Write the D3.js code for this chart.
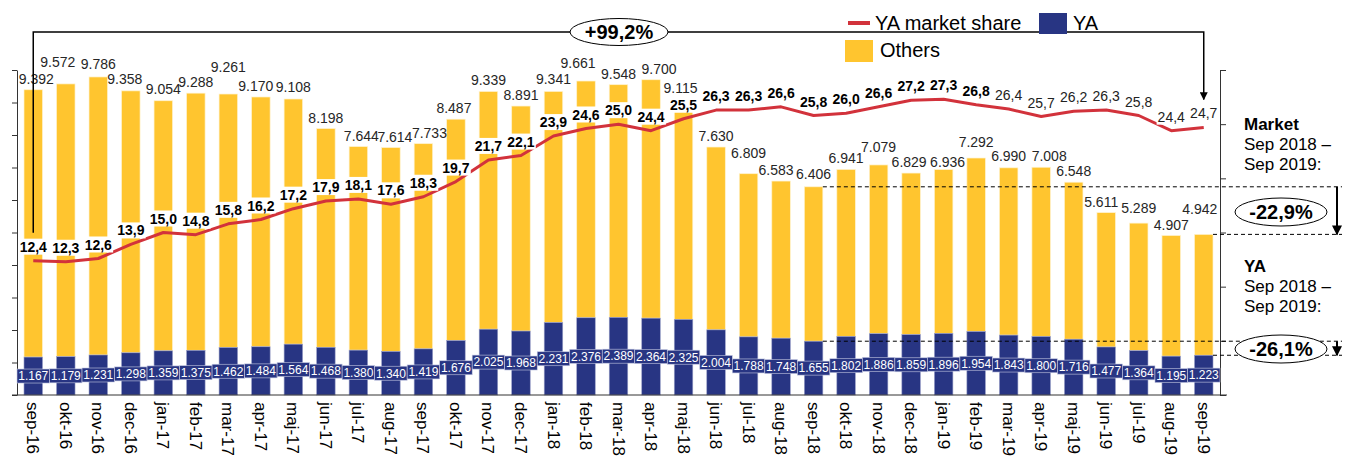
<!DOCTYPE html>
<html><head><meta charset="utf-8">
<script src="https://cdn.jsdelivr.net/npm/d3@7"></script>
<style>body{margin:0;background:#fff} svg{display:block;font-family:"Liberation Sans",Arial,sans-serif}</style>
</head><body><svg id="c" width="1352" height="464"></svg>
<script>
const months = ["sep-16","okt-16","nov-16","dec-16","jan-17","feb-17","mar-17","apr-17","maj-17","jun-17","jul-17","aug-17","sep-17","okt-17","nov-17","dec-17","jan-18","feb-18","mar-18","apr-18","maj-18","jun-18","jul-18","aug-18","sep-18","okt-18","nov-18","dec-18","jan-19","feb-19","mar-19","apr-19","maj-19","jun-19","jul-19","aug-19","sep-19"];
const totals = [9392,9572,9786,9358,9054,9288,9261,9170,9108,8198,7644,7614,7733,8487,9339,8891,9341,9661,9548,9700,9115,7630,6809,6583,6406,6941,7079,6829,6936,7292,6990,7008,6548,5611,5289,4907,4942];
const yaValues = [1167,1179,1231,1298,1359,1375,1462,1484,1564,1468,1380,1340,1419,1676,2025,1968,2231,2376,2389,2364,2325,2004,1788,1748,1655,1802,1886,1859,1896,1954,1843,1800,1716,1477,1364,1195,1223];
const share = [12.4,12.3,12.6,13.9,15.0,14.8,15.8,16.2,17.2,17.9,18.1,17.6,18.3,19.7,21.7,22.1,23.9,24.6,25.0,24.4,25.5,26.3,26.3,26.6,25.8,26.0,26.6,27.2,27.3,26.8,26.4,25.7,26.2,26.3,25.8,24.4,24.7];
const leftTicks = d3.range(0, 10001, 1000);
const rightTicks = [0,5,10,15,20,25,30];
const lastBoldLabel = "feb-19";
const periodStart = "sep-18", periodEnd = "sep-19";

// layout tweaks for total labels (manual label placement in original)
const labelLift = [0,11,2,1,1,0,16,0,1,0,0,0,0,0,1,0,1,7,0,0,0,0,10,0,2,0,7,0,-3,5,1,0,0,0,4,0,14];
const labelShift = [3,-8,0,-6,0,0,0,-5,0,0,3,4,6,-2,0,0,0,-8,0,8,-3,0,0,-5,0,0,0,-2,4,0,0,8,0,-5,0,0,-4];

const YELLOW = "#FFC52F", NAVY = "#283583", RED = "#D2323B";
const svg = d3.select("#c");
const x = d3.scaleBand().domain(months).range([17, 1220]).paddingInner(0.43).paddingOuter(0.215);
const yL = d3.scaleLinear().domain([0, 10000]).range([395, 70]);
const yR = d3.scaleLinear().domain([0, 30]).range([395, 70]);
const cx = m => x(m) + x.bandwidth() / 2;
const loc = d3.formatLocale({decimal: ",", thousands: ".", grouping: [3], currency: ["", ""]});
const fInt = loc.format(",d"), f1 = loc.format(".1f");
const fPct = loc.format("+.1%");

const data = months.map((m, i) => ({m, i, total: totals[i], ya: yaValues[i], share: share[i]}));

// bars
const g = svg.append("g");
g.selectAll("rect.o").data(data).join("rect")
  .attr("x", d => x(d.m)).attr("width", x.bandwidth())
  .attr("y", d => yL(d.total)).attr("height", d => yL(d.ya) - yL(d.total))
  .attr("fill", YELLOW).attr("stroke", "#fff3cf").attr("stroke-width", 0.7);
g.selectAll("rect.y").data(data).join("rect")
  .attr("x", d => x(d.m)).attr("width", x.bandwidth())
  .attr("y", d => yL(d.ya)).attr("height", d => yL(0) - yL(d.ya))
  .attr("fill", NAVY).attr("stroke", "#9aa0c8").attr("stroke-width", 0.6);

// axes
const axL = svg.append("g").attr("transform", "translate(17,0)")
  .call(d3.axisLeft(yL).tickValues(leftTicks).tickSize(5).tickSizeOuter(0).tickFormat(""));
const axR = svg.append("g").attr("transform", "translate(1220,0)")
  .call(d3.axisRight(yR).tickValues(rightTicks).tickSize(6).tickSizeOuter(0).tickFormat(""));
const axB = svg.append("g").attr("transform", "translate(0,395)")
  .call(d3.axisBottom(x).tickSize(0).tickSizeOuter(0));
axB.selectAll("text").attr("transform", "rotate(90)").attr("x", 7).attr("y", 0).attr("dy", "0.35em")
  .attr("text-anchor", "start").attr("font-size", 17).attr("fill", "#000")
  .attr("font-family", '"Liberation Sans",Arial,sans-serif');
[axL, axR, axB].forEach(a => { a.selectAll("path,line").attr("stroke", "#333").attr("stroke-width", 1); });
axB.select("path").attr("d", "M12,0H1227");

// YA labels
const yl = svg.append("g");
yl.selectAll("rect").data(data).join("rect")
  .attr("x", d => cx(d.m) - x.step() / 2).attr("width", x.step())
  .attr("y", d => yL(d.ya / 2) - 7).attr("height", 14)
  .attr("fill", NAVY).attr("stroke", "#c5c9e2").attr("stroke-width", 0.6);
yl.selectAll("text").data(data).join("text")
  .attr("x", d => cx(d.m)).attr("y", d => yL(d.ya / 2)).attr("dy", "0.36em")
  .attr("text-anchor", "middle").attr("font-size", 12).attr("fill", "#fff")
  .text(d => fInt(d.ya));

// dashed reference lines
const iS = months.indexOf(periodStart), iE = months.indexOf(periodEnd);
const dash = svg.append("g").attr("stroke", "#000").attr("stroke-width", 1).attr("stroke-dasharray", "4,3");
[[iS, totals], [iE, totals], [iS, yaValues], [iE, yaValues]].forEach(([i, arr]) => {
  dash.append("line").attr("x1", x(months[i]) + x.bandwidth()).attr("x2", 1342)
    .attr("y1", yL(arr[i])).attr("y2", yL(arr[i]));
});

// line
svg.append("path").datum(data)
  .attr("d", d3.line().x(d => cx(d.m)).y(d => yR(d.share)))
  .attr("fill", "none").attr("stroke", RED).attr("stroke-width", 3).attr("stroke-linejoin", "round");

// share labels
const boldIdx = months.indexOf(lastBoldLabel);
const sl = svg.append("g");
data.forEach(d => {
  const t = sl.append("text").attr("x", cx(d.m)).attr("y", yR(d.share) - 14).attr("dy", "0.36em")
    .attr("text-anchor", "middle").attr("font-size", 14)
    .attr("font-weight", d.i <= boldIdx ? "bold" : "normal").attr("fill", d.i <= boldIdx ? "#000" : "#222")
    .text(f1(d.share));
  const bb = t.node().getBBox();
  sl.insert("rect", "text").attr("x", bb.x - 1).attr("y", yR(d.share) - 22).attr("width", bb.width + 2).attr("height", 16).attr("fill", "#fff");
});

// total labels
svg.append("g").selectAll("text").data(data).join("text")
  .attr("x", d => cx(d.m) + labelShift[d.i]).attr("y", d => yL(d.total) - 11 - labelLift[d.i]).attr("dy", "0.36em")
  .attr("text-anchor", "middle").attr("font-size", 14).attr("fill", "#262626")
  .text(d => fInt(d.total));

// markers
const defs = svg.append("defs");
defs.append("marker").attr("id", "ah").attr("viewBox", "0 0 10 10").attr("refX", 9).attr("refY", 5)
  .attr("markerWidth", 8).attr("markerHeight", 8).attr("markerUnits", "userSpaceOnUse").attr("orient", "auto")
  .append("path").attr("d", "M0,0L10,5L0,10Z").attr("fill", "#000");
defs.append("marker").attr("id", "ah2").attr("viewBox", "0 0 10 10").attr("refX", 9).attr("refY", 5)
  .attr("markerWidth", 10).attr("markerHeight", 10).attr("markerUnits", "userSpaceOnUse").attr("orient", "auto")
  .append("path").attr("d", "M0,0L10,5L0,10Z").attr("fill", "#000");

// +99,2% bracket
const x0 = cx(months[0]), x1 = cx(months[months.length - 1]);
const ann = svg.append("g");
ann.append("path").attr("d", `M${x0},${yR(share[0]) - 28}V32H${x1}V${yR(share[share.length-1]) - 28}`)
  .attr("fill", "none").attr("stroke", "#000").attr("stroke-width", 1.5).attr("marker-end", "url(#ah)");
function oval(cxp, cyp, rx, ry, txt) {
  ann.append("ellipse").attr("cx", cxp).attr("cy", cyp).attr("rx", rx).attr("ry", ry)
    .attr("fill", "#fff").attr("stroke", "#000").attr("stroke-width", 1);
  ann.append("text").attr("x", cxp).attr("y", cyp).attr("dy", "0.36em").attr("text-anchor", "middle")
    .attr("font-size", 20).attr("font-weight", "bold").text(txt);
}
oval(619, 32, 49, 13.5, fPct(share[share.length-1] / share[0] - 1).replace("%", "%"));

// right side arrows
ann.append("line").attr("x1", 1337).attr("x2", 1337).attr("y1", yL(totals[iS])).attr("y2", yL(totals[iE]))
  .attr("stroke", "#000").attr("stroke-width", 2).attr("marker-end", "url(#ah2)");
ann.append("line").attr("x1", 1337).attr("x2", 1337).attr("y1", yL(yaValues[iS])).attr("y2", yL(yaValues[iE]))
  .attr("stroke", "#000").attr("stroke-width", 2).attr("marker-end", "url(#ah2)");
oval(1281, 212, 46, 14, loc.format(".1%")(totals[iE] / totals[iS] - 1).replace("−", "-"));
oval(1281, 349, 46, 14, loc.format(".1%")(yaValues[iE] / yaValues[iS] - 1).replace("−", "-"));

// right texts
const rt = svg.append("g").attr("font-size", 17).attr("fill", "#000");
[["Market", 130, true], ["Sep 2018 –", 150, false], ["Sep 2019:", 170, false],
 ["YA", 272, true], ["Sep 2018 –", 292, false], ["Sep 2019:", 312, false]].forEach(([t, y, b]) => {
  rt.append("text").attr("x", 1244).attr("y", y).attr("font-weight", b ? "bold" : "normal").text(t);
});

// legend
const lg = svg.append("g").attr("font-size", 20).attr("fill", "#000");
lg.append("line").attr("x1", 848).attr("x2", 870).attr("y1", 23).attr("y2", 23).attr("stroke", RED).attr("stroke-width", 4);
lg.append("text").attr("x", 875).attr("y", 30).text("YA market share");
lg.append("rect").attr("x", 1039).attr("y", 13).attr("width", 28).attr("height", 21).attr("fill", NAVY);
lg.append("text").attr("x", 1073).attr("y", 30).text("YA");
lg.append("rect").attr("x", 845).attr("y", 40).attr("width", 28).attr("height", 22).attr("fill", YELLOW);
lg.append("text").attr("x", 880).attr("y", 57).text("Others");
</script></body></html>
